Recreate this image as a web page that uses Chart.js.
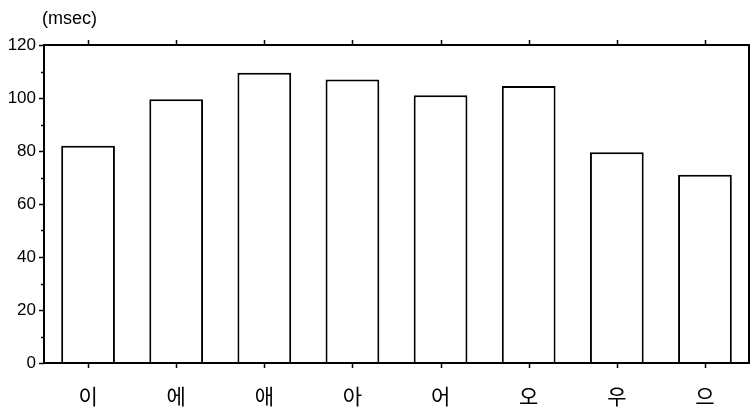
<!DOCTYPE html>
<html>
<head>
<meta charset="utf-8">
<script src="https://cdn.jsdelivr.net/npm/chart.js@4"></script>
<style>
html,body{margin:0;padding:0;background:#fff;}
#wrap{width:750px;height:408px;position:relative;}
</style>
</head>
<body>
<div id="wrap"><canvas id="c" width="750" height="408"></canvas></div>
<script>
const categories = ['이', '에', '애', '아', '어', '오', '우', '으'];
const durations = [82, 99.5, 109.5, 107, 101, 104.5, 79.5, 71];
const yTickValues = [0, 20, 40, 60, 80, 100, 120];
const unitLabel = '(msec)';

const framePlugin = {
  id: 'frame',
  afterDraw(chart) {
    const ctx = chart.ctx;
    const a = chart.chartArea;
    const x = chart.scales.x, y = chart.scales.y;
    ctx.save();
    ctx.strokeStyle = '#000';
    ctx.lineWidth = 2;
    ctx.strokeRect(a.left, a.top, a.right - a.left, a.bottom - a.top);
    ctx.lineWidth = 1.5;
    for (let v = 0; v <= 120; v += 10) {
      const py = Math.round(y.getPixelForValue(v)) + 0.5;
      const len = yTickValues.includes(v) ? 5 : 3;
      ctx.beginPath();
      ctx.moveTo(a.left - len, py);
      ctx.lineTo(a.left, py);
      ctx.stroke();
    }
    categories.forEach((c, i) => {
      const px = Math.round(x.getPixelForValue(i)) + 0.5;
      ctx.beginPath();
      ctx.moveTo(px, a.top - 5);
      ctx.lineTo(px, a.top);
      ctx.moveTo(px, a.bottom);
      ctx.lineTo(px, a.bottom + 5);
      ctx.stroke();
    });
    ctx.fillStyle = '#000';
    ctx.font = '18px "Liberation Sans", Arial, sans-serif';
    ctx.textAlign = 'left';
    ctx.textBaseline = 'middle';
    ctx.fillText(unitLabel, 42, 19);
    ctx.restore();
  }
};

new Chart(document.getElementById('c'), {
  type: 'bar',
  data: {
    labels: categories,
    datasets: [{
      data: durations,
      backgroundColor: '#fff',
      borderColor: '#000',
      borderWidth: 2,
      borderSkipped: 'bottom',
      barPercentage: 0.61,
      categoryPercentage: 1
    }]
  },
  options: {
    responsive: false,
    animation: false,
    devicePixelRatio: 1,
    layout: { padding: { top: 45, right: 1, left: 0, bottom: 0 } },
    plugins: { legend: { display: false }, tooltip: { enabled: false }, title: { display: false } },
    scales: {
      x: {
        grid: { display: false },
        border: { display: false },
        ticks: {
          color: '#000',
          font: { family: '"Noto Sans CJK KR", sans-serif', size: 21 },
          padding: 12
        },
        afterFit(s) { s.height = 45; }
      },
      y: {
        min: 0, max: 120,
        afterBuildTicks(s) { s.ticks = yTickValues.map(v => ({ value: v })); },
        grid: { display: false },
        border: { display: false },
        ticks: {
          color: '#000',
          font: { family: '"Liberation Sans", Arial, sans-serif', size: 17 },
          padding: 0
        },
        afterFit(s) { s.width = 44; }
      }
    }
  },
  plugins: [framePlugin]
});
</script>
</body>
</html>
